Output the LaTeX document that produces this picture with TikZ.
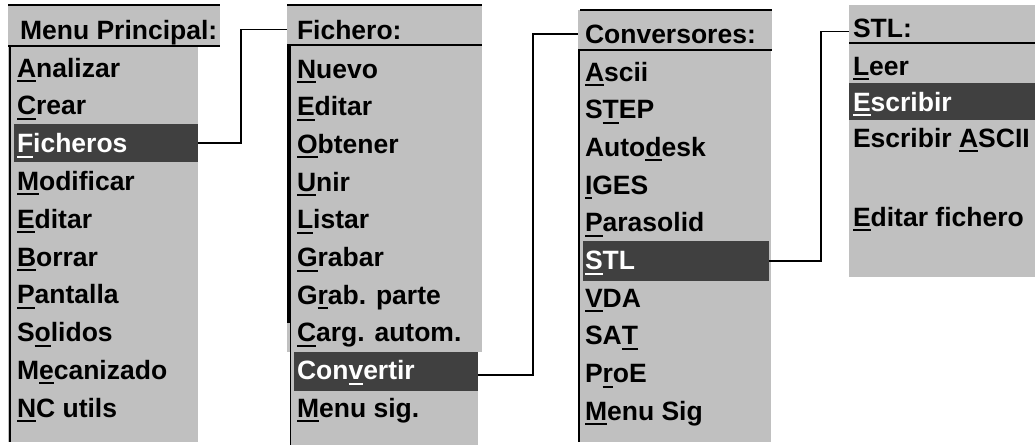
\documentclass[tikz,border=0pt]{standalone}
\usepackage{fontspec}
\setmainfont{Liberation Sans}
\definecolor{menugray}{HTML}{C0C0C0}
\definecolor{hldark}{HTML}{404040}
% underlined accelerator letter
\newcommand\acc[1]{\setbox0\hbox{#1}\rlap{\rule[-5pt]{\wd0}{2pt}}#1}
\tikzset{
  panel/.style={fill=menugray, draw=none, inner sep=0, outer sep=0, anchor=north west},
  hlbar/.style={fill=hldark, draw=none, inner sep=0, outer sep=0, anchor=north west},
  item/.style={anchor=base west, inner sep=0, outer sep=0,
               font=\bfseries\fontsize{26.5}{30}\selectfont, text=black},
  hitem/.style={item, text=white},
  edgeline/.style={line width=2pt, black},
  link/.style={line width=1.6pt, black, line join=miter},
}
\begin{document}
\begin{tikzpicture}[x=1pt, y=-1pt]
\useasboundingbox[fill=white] (0,0) rectangle (1035,445);

% ---------- Menu Principal ----------
\node[panel, minimum width=212, minimum height=41] (tA) at (8,5) {};
\node[panel, minimum width=190, minimum height=396] (bA) at (8,46) {};
\draw[edgeline] (tA.north west) -- (tA.north east);
\draw[edgeline] (tA.south west) -- (tA.south east);
\draw[edgeline] ([xshift=1.5pt]bA.north west) -- ([xshift=1.5pt]bA.south west);
\node[hlbar, minimum width=184, minimum height=38] (hA) at (14,124) {};
\node[item] (nA0) at (20,39) {Menu Principal:};
\node[item] (nA1) at (17,77.0) {\acc{A}nalizar};
\node[item] (nA2) at (17,114.8) {\acc{C}rear};
\node[hitem] (nA3) at (17,152.6) {\acc{F}icheros};
\node[item] (nA4) at (17,190.4) {\acc{M}odificar};
\node[item] (nA5) at (17,228.2) {\acc{E}ditar};
\node[item] (nA6) at (17,266.0) {\acc{B}orrar};
\node[item] (nA7) at (17,303.8) {\acc{P}antalla};
\node[item] (nA8) at (17,341.6) {S\acc{o}lidos};
\node[item] (nA9) at (17,379.4) {M\acc{e}canizado};
\node[item] (nA10) at (17,417.2) {\acc{N}C utils};

% ---------- Fichero ----------
\node[panel, minimum width=195, minimum height=40] (tB) at (287,5) {};
\node[panel, minimum width=195, minimum height=307] (bB) at (287,45) {};
\node[panel, minimum width=187, minimum height=93] (bB2) at (291,352) {};
\draw[edgeline] (tB.north west) -- (tB.north east);
\draw[edgeline] (tB.south west) -- (tB.south east);
\draw[line width=3pt] ([xshift=1.5pt]bB.north west) -- ([xshift=1.5pt]bB.north west |- 0,323);
\draw[line width=1.5pt] ([xshift=3.5pt]bB.north west) -- ([xshift=3.5pt]bB.north west |- 0,445);
\node[hlbar, minimum width=184, minimum height=39] (hB) at (294,352) {};
\node[item] (nB0) at (297,39) {Fichero:};
\node[item] (nB1) at (297,78.0) {\acc{N}uevo};
\node[item] (nB2) at (297,115.7) {\acc{E}ditar};
\node[item] (nB3) at (297,153.4) {\acc{O}btener};
\node[item] (nB4) at (297,191.1) {\acc{U}nir};
\node[item] (nB5) at (297,228.8) {\acc{L}istar};
\node[item] (nB6) at (297,266.5) {\acc{G}rabar};
\node[item] (nB7) at (297,304.2) {G\acc{r}ab. parte};
\node[item] (nB8) at (297,341.9) {\acc{C}arg. autom.};
\node[hitem] (nB9) at (297,379.6) {Con\acc{v}ertir};
\node[item] (nB10) at (297,417.3) {\acc{M}enu sig.};

% ---------- Conversores ----------
\node[panel, minimum width=194, minimum height=40] (tC) at (578,10) {};
\node[panel, minimum width=193, minimum height=392] (bC) at (578,50) {};
\draw[edgeline] ([xshift=2pt]tC.north west) -- (tC.north east);
\draw[edgeline] (tC.south west) -- (tC.south east);
\draw[edgeline] ([xshift=1pt]bC.north west) -- ([xshift=1pt]bC.south west);
\node[hlbar, minimum width=186, minimum height=40] (hC) at (583,241) {};
\node[item] (nC0) at (585,43) {Conversores:};
\node[item] (nC1) at (585,81.0) {\acc{A}scii};
\node[item] (nC2) at (585,118.7) {S\acc{T}EP};
\node[item] (nC3) at (585,156.4) {Auto\acc{d}esk};
\node[item] (nC4) at (585,194.1) {\acc{I}GES};
\node[item] (nC5) at (585,231.8) {\acc{P}arasolid};
\node[hitem] (nC6) at (585,269.5) {\acc{S}TL};
\node[item] (nC7) at (585,307.2) {\acc{V}DA};
\node[item] (nC8) at (585,344.9) {SA\acc{T}};
\node[item] (nC9) at (585,382.6) {P\acc{r}oE};
\node[item] (nC10) at (585,420.3) {\acc{M}enu Sig};

% ---------- STL ----------
\node[panel, minimum width=186, minimum height=38] (tD) at (849,5) {};
\node[panel, minimum width=186, minimum height=234] (bD) at (849,43) {};
\draw[edgeline] (tD.south west) -- (tD.south east);
\node[hlbar, minimum width=186, minimum height=37] (hD) at (849,83) {};
\node[item] (nD0) at (853,37) {STL:};
\node[item] (nD1) at (853,75) {\acc{L}eer};
\node[hitem] (nD2) at (853,111) {\acc{E}scribir};
\node[item] (nD3) at (853,147) {Escribir \acc{A}SCII};
\node[item] (nD4) at (853,226) {\acc{E}ditar fichero};

% ---------- connectors ----------
\coordinate (jA) at (241,0);
\coordinate (jB) at (533,0);
\coordinate (jC) at (821,0);
\draw[link] (hA.east) -- (hA.east -| jA) |- (tB.west |- nB0.west);
\draw[link] ([yshift=-3.5pt]hB.east) -- ([yshift=-3.5pt]hB.east -| jB) |- (tC.west |- nC0.west);
\draw[link] (hC.east) -- (hC.east -| jC) |- ([yshift=-3.5pt]tD.west |- nD0.west);
\end{tikzpicture}
\end{document}
